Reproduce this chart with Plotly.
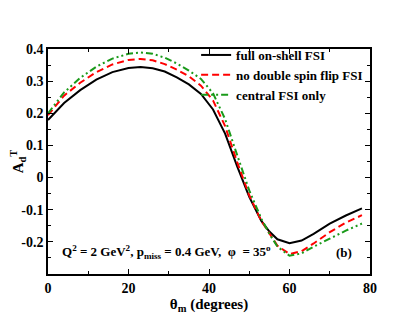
import plotly.graph_objects as go

# theta_m in degrees
theta = [0, 4, 8, 12, 16, 20, 23, 26, 29, 32, 35, 38, 41, 44, 47, 50, 53, 55, 57, 60, 63, 66, 70, 74, 78]

full_fsi = [0.179, 0.232, 0.272, 0.305, 0.328, 0.341, 0.344, 0.340, 0.330, 0.312, 0.290, 0.260, 0.212,
            0.137, 0.035, -0.060, -0.135, -0.168, -0.192, -0.204, -0.196, -0.175, -0.143, -0.118, -0.096]
no_dsf_fsi = [0.194, 0.255, 0.295, 0.328, 0.352, 0.366, 0.369, 0.365, 0.353, 0.336, 0.315, 0.286, 0.240,
              0.160, 0.048, -0.055, -0.135, -0.175, -0.212, -0.238, -0.229, -0.205, -0.170, -0.140, -0.117]
central_fsi = [0.200, 0.265, 0.310, 0.345, 0.370, 0.385, 0.389, 0.385, 0.373, 0.355, 0.333, 0.307, 0.262,
               0.182, 0.070, -0.040, -0.128, -0.175, -0.215, -0.243, -0.236, -0.215, -0.190, -0.165, -0.143]

x_ticks = [0, 20, 40, 60, 80]
y_ticks = [-0.2, -0.1, 0, 0.1, 0.2, 0.3, 0.4]
y_tick_labels = ['-0.2', '-0.1', '0', '0.1', '0.2', '0.3', '0.4']

series = [
    ('full on-shell FSI', full_fsi, 'black', 'solid'),
    ('no double spin flip FSI', no_dsf_fsi, 'red', '7px,4px'),
    ('central FSI only', central_fsi, '#1a9a1a', '7px,3px,2px,3px,2px,3px'),
]

FONT = 'Liberation Serif'

fig = go.Figure()
for name, vals, color, dash in series:
    fig.add_trace(go.Scatter(x=theta, y=vals, mode='lines', name='<b>' + name + '</b>',
                             line=dict(color=color, width=2, dash=dash)))

axis_common = dict(
    showgrid=False, zeroline=False, showline=True, linecolor='black', linewidth=1.5,
    mirror='ticks', ticks='inside', ticklen=5, tickwidth=1, tickcolor='black',
    tickfont=dict(family=FONT, size=14, color='black', weight='bold'),
    automargin=False,
)

fig.update_xaxes(range=[0, 80], tickvals=x_ticks, ticktext=['<b>%d</b>' % v for v in x_ticks],
                 minor=dict(dtick=10, ticks='inside', ticklen=3, tickcolor='black'),
                 title=dict(text='<b>θ<sub>m</sub> (degrees)</b>', standoff=0,
                            font=dict(family=FONT, size=15, color='black', weight='bold')),
                 **axis_common)
fig.update_yaxes(range=[-0.3, 0.4], tickvals=y_ticks, ticktext=['<b>%s</b>' % t for t in y_tick_labels],
                 minor=dict(dtick=0.05, ticks='inside', ticklen=3, tickcolor='black'),
                 title=dict(text='<b>A<sub>d</sub><sup>T</sup></b>', standoff=10,
                            font=dict(family=FONT, size=15, color='black', weight='bold')),
                 **axis_common)

fig.add_annotation(x=3, y=-0.232, xref='x', yref='y', xanchor='left', yanchor='middle',
                   text='<b>Q<sup>2</sup> = 2 GeV<sup>2</sup>, p<sub>miss</sub> = 0.4 GeV,  φ  = 35<sup>o</sup></b>',
                   showarrow=False, font=dict(family=FONT, size=13, color='black', weight='bold'))
fig.add_annotation(x=73.5, y=-0.232, xref='x', yref='y', text='<b>(b)</b>', showarrow=False,
                   font=dict(family=FONT, size=13, color='black', weight='bold'))

# page body adds an 8px offset, so margins are trimmed to keep the frame in place
fig.update_layout(
    width=417, height=322,
    margin=dict(l=40, r=55, t=41, b=56),
    paper_bgcolor='white', plot_bgcolor='white',
    showlegend=True,
    legend=dict(x=0.46, y=1.04, xanchor='left', yanchor='top', bgcolor='rgba(0,0,0,0)',
                font=dict(family=FONT, size=13, color='black', weight='bold'),
                tracegroupgap=0),
)

fig.write_html("out.html")
